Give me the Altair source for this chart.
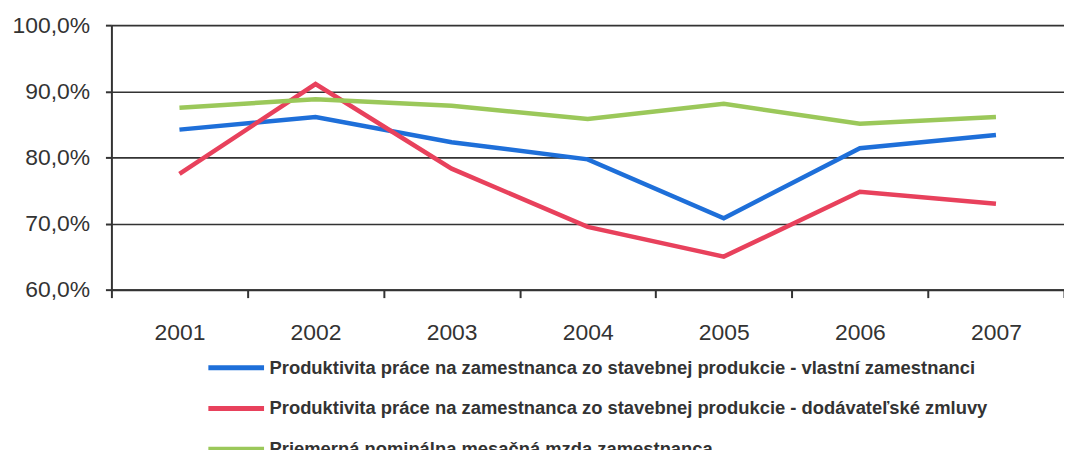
import altair as alt
import pandas as pd

years = ["2001", "2002", "2003", "2004", "2005", "2006", "2007"]
series_names = [
    "Produktivita práce na zamestnanca zo stavebnej produkcie - vlastní zamestnanci",
    "Produktivita práce na zamestnanca zo stavebnej produkcie - dodávateľské zmluvy",
    "Priemerná nominálna mesačná mzda zamestnanca",
]
blue_values = [84.2, 86.1, 82.3, 79.7, 70.8, 81.4, 83.4]
red_values = [77.5, 91.1, 78.3, 69.5, 65.0, 74.8, 73.0]
green_values = [87.5, 88.8, 87.8, 85.8, 88.1, 85.1, 86.1]
colors = ["#1E6FD9", "#E8415C", "#9BC85A"]
y_ticks = [60, 70, 80, 90, 100]

rows = []
for name, vals in zip(series_names, [blue_values, red_values, green_values]):
    for yr, v in zip(years, vals):
        rows.append({"year": yr, "value": v, "series": name})
df = pd.DataFrame(rows)

axis_color = "#333333"

chart = alt.Chart(df).mark_line(strokeWidth=4.5).encode(
    x=alt.X(
        "year:O",
        bandPosition=0.5,
        sort=years,
        scale=alt.Scale(type="band", paddingInner=0, paddingOuter=0),
        axis=alt.Axis(
            title=None, labelAngle=0, tickBand="extent", grid=False,
            domainColor=axis_color, domainWidth=2, tickColor=axis_color,
            tickWidth=2, tickSize=8, labelFontSize=23, labelFont="Liberation Sans",
            labelColor="#333333", labelPadding=24,
        ),
    ),
    y=alt.Y(
        "value:Q",
        scale=alt.Scale(domain=[60, 100], nice=False, zero=False),
        axis=alt.Axis(
            title=None, values=y_ticks,
            labelExpr="replace(format(datum.value, '.1f'), '.', ',') + '%'",
            grid=True, gridColor=axis_color, gridWidth=1.6,
            domainColor=axis_color, domainWidth=2, tickColor=axis_color,
            tickWidth=2, tickSize=6, labelFontSize=23, labelFont="Liberation Sans",
            labelColor="#333333", labelPadding=16,
        ),
    ),
    color=alt.Color(
        "series:N",
        sort=series_names,
        scale=alt.Scale(domain=series_names, range=colors),
        legend=alt.Legend(
            title=None, orient="none", legendX=95, legendY=314,
            direction="vertical", symbolType="stroke", symbolSize=3136,
            symbolStrokeWidth=5, labelFontSize=18.5, labelFont="Liberation Sans",
            labelFontWeight="bold",
            labelColor="#333333", labelOffset=3, rowPadding=0, padding=0,
            labelLimit=1000,
        ),
    ),
).properties(
    width=958,
    height=266,
    padding={"left": 104, "top": 16, "right": 0, "bottom": 160},
    autosize=alt.AutoSizeParams(type="none"),
).configure_view(stroke=None)

chart.save("out.html", embed_options={"renderer": "svg", "actions": False})
